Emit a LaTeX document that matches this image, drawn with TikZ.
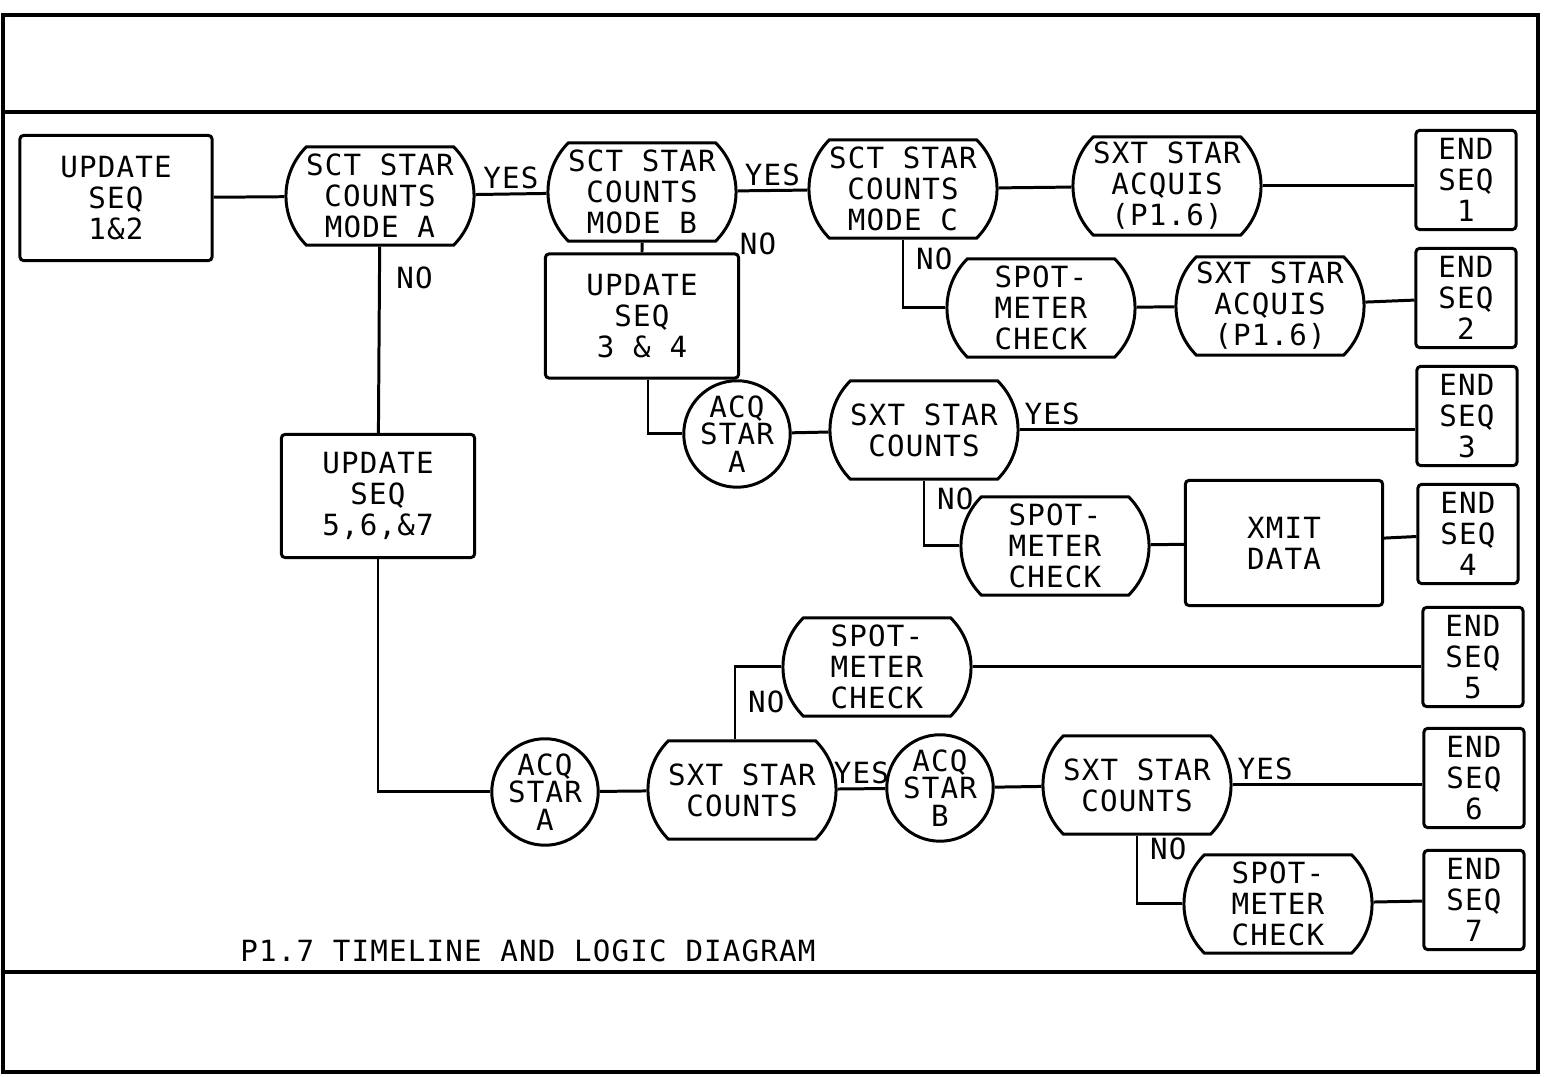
\documentclass[tikz,border=0pt]{standalone}
\usepackage{fontspec}
\newfontfamily\diagfont{DejaVu Sans Mono}[LetterSpace=4]
\usetikzlibrary{shapes.misc}

\begin{document}
\begin{tikzpicture}[
    x=0.01cm, y=-0.01cm,
    every node/.style={font=\diagfont\fontsize{8.3}{8.8}\selectfont, align=center},
    box/.style={rectangle, rounded corners=1pt, draw, line width=0.85pt, inner sep=1pt},
    test/.style={rounded rectangle, rounded rectangle arc length=90, draw, line width=0.85pt, minimum width=1.95cm, minimum height=0.98cm, inner sep=1pt},
    acq/.style={circle, draw, line width=0.85pt, minimum size=1.04cm, inner sep=0pt, font=\diagfont\fontsize{8.3}{7.8}\selectfont},
    endseq/.style={box, minimum width=1cm, minimum height=0.99cm},
    lbl/.style={inner sep=1pt},
    line/.style={line width=0.85pt},
]
\useasboundingbox (0,0) rectangle (1544,1077);

% Frame
\draw[line width=1pt] (3,15) rectangle (1538,1072);
\draw[line width=1pt] (3,112) -- (1538,112);
\draw[line width=1pt] (3,972) -- (1538,972);

% Sequence 1 & 2
\node[box, minimum width=1.92cm, minimum height=1.25cm] (upd12) at (116,198) {UPDATE\\SEQ\\1\&2};
\node[test] (modeA) at (380,196) {SCT STAR\\COUNTS\\MODE A};
\node[test] (modeB) at (642,192) {SCT STAR\\COUNTS\\MODE B};
\node[test] (modeC) at (903,189) {SCT STAR\\COUNTS\\MODE C};
\node[test] (acq1) at (1167,186) {SXT STAR\\ACQUIS\\(P1.6)};
\node[endseq] (end1) at (1466,180) {END\\SEQ\\1};
\node[test] (spot1) at (1041,308) {SPOT-\\METER\\CHECK};
\node[test] (acq2) at (1270,306) {SXT STAR\\ACQUIS\\(P1.6)};
\node[endseq] (end2) at (1466,298) {END\\SEQ\\2};

% Sequence 3 & 4
\node[box, minimum width=1.93cm, minimum height=1.24cm] (upd34) at (642,316) {UPDATE\\SEQ\\3 \& 4};
\node[acq] (acqA1) at (737,434) {ACQ\\STAR\\A};
\node[test] (cnt1) at (924,430) {SXT STAR\\COUNTS};
\node[endseq] (end3) at (1467,416) {END\\SEQ\\3};
\node[test] (spot2) at (1055,546) {SPOT-\\METER\\CHECK};
\node[box, minimum width=1.97cm, minimum height=1.25cm] (xmit) at (1284,543) {XMIT\\DATA};
\node[endseq] (end4) at (1468,534) {END\\SEQ\\4};

% Sequence 5, 6 & 7
\node[box, minimum width=1.93cm, minimum height=1.23cm] (upd567) at (378,496) {UPDATE\\SEQ\\5,6,\&7};
\node[test] (spot3) at (877,667) {SPOT-\\METER\\CHECK};
\node[endseq] (end5) at (1473,657) {END\\SEQ\\5};
\node[acq] (acqA2) at (545,792) {ACQ\\STAR\\A};
\node[test] (cnt2) at (742,790) {SXT STAR\\COUNTS};
\node[acq] (acqB) at (940,788) {ACQ\\STAR\\B};
\node[test] (cnt3) at (1137,785) {SXT STAR\\COUNTS};
\node[endseq] (end6) at (1474,778) {END\\SEQ\\6};
\node[test] (spot4) at (1278,904) {SPOT-\\METER\\CHECK};
\node[endseq] (end7) at (1474,900) {END\\SEQ\\7};

% Title
\node (title) at (528,951) {P1.7 TIMELINE AND LOGIC DIAGRAM};

% Connectors
\draw[line] (upd12) -- (modeA);
\draw[line] (modeA) -- node[lbl, above] {YES} (modeB);
\draw[line] (modeB) -- node[lbl, above] {YES} (modeC);
\draw[line] (modeC) -- (acq1);
\draw[line] (acq1.east) -- (acq1.east -| end1.west);
\draw[line] (modeC.south) |- node[lbl, pos=0.14, right=0.08cm] {NO} (spot1.west);
\draw[line] (spot1) -- (acq2);
\draw[line] (acq2) -- (end2);
\draw[line] (modeB) -- (upd34) node[lbl, pos=0.1, xshift=1.16cm] {NO};
\draw[line] (modeA) -- node[lbl, pos=0.17, right=0.12cm] {NO} (upd567);
\draw[line] ([xshift=0.06cm]upd34.south) |- (acqA1.west);
\draw[line] (acqA1) -- (cnt1);
\draw[line] (cnt1.east) -- node[lbl, pos=0, above right] {YES} (cnt1.east -| end3.west);
\draw[line] (cnt1.south) |- node[lbl, pos=0.14, right=0.08cm] {NO} (spot2.west);
\draw[line] (spot2) -- (xmit);
\draw[line] (xmit) -- (end4);
\draw[line] (upd567.south) |- (acqA2.west);
\draw[line] (acqA2) -- (cnt2);
\draw[line] ([xshift=-0.07cm]cnt2.north) |- node[lbl, pos=0.26, right=0.08cm] {NO} (spot3.west);
\draw[line] (spot3.east) -- (spot3.east -| end5.west);
\draw[line] (cnt2) -- node[lbl, above] {YES} (acqB);
\draw[line] (acqB) -- (cnt3);
\draw[line] (cnt3.east) -- node[lbl, pos=0, above right] {YES} (cnt3.east -| end6.west);
\draw[line] (cnt3.south) |- node[lbl, pos=0.1, right=0.08cm] {NO} (spot4.west);
\draw[line] (spot4) -- (end7);

\end{tikzpicture}
\end{document}
